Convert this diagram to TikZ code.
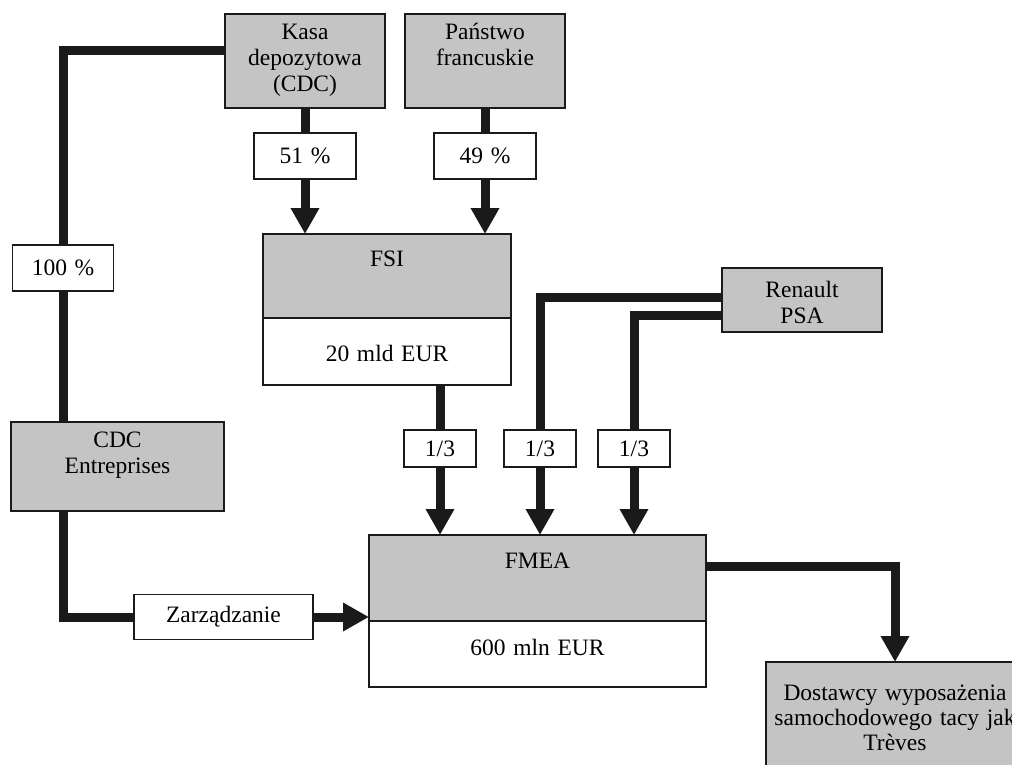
\documentclass[tikz,border=0pt]{standalone}
\usepackage{fontspec}
\setmainfont{Liberation Serif}[WordSpace=1.3]
\usetikzlibrary{arrows.meta,positioning}
\definecolor{boxgrey}{RGB}{196,196,196}
\definecolor{ink}{RGB}{26,26,26}
\tikzset{
 box/.style={draw=ink,line width=1.6pt,outer sep=0pt,inner sep=0pt},
 greybox/.style={box,fill=boxgrey},
 tag/.style={box,fill=white,font=\fontsize{23.5}{26}\selectfont},
 txt/.style={inner sep=0pt,align=center,anchor=base,font=\fontsize{23.5}{26}\selectfont},
 link/.style={draw=ink,line width=9pt},
 flow/.style={link,-{Triangle[width=27pt,length=26pt]}}
}

\begin{document}
\begin{tikzpicture}[x=1pt,y=-1pt]
\clip (0,0) rectangle (1012,765);
\fill[white] (0,0) rectangle (1012,765);
\node[greybox,minimum width=160,minimum height=94] (kasa) at (305,61) {};
\node[greybox,minimum width=160,minimum height=94] (panstwo) at (485,61) {};
\node[tag,minimum width=102,minimum height=46] (p51) at (305,156) {51 \%};
\node[tag,minimum width=102,minimum height=46] (p49) at (485,156) {49 \%};
\node[greybox,minimum width=248,minimum height=84] (fsi) at (387,276) {};
\node[box,fill=white,minimum width=248,minimum height=67,below=0pt of fsi] (fsiamt) {};
\node[greybox,minimum width=160,minimum height=64] (renault) at (802,300) {};
\node[tag,minimum width=72,minimum height=37] (f1) at (440,448.5) {1/3};
\node[tag,minimum width=72,minimum height=37] (f2) at (540,448.5) {1/3};
\node[tag,minimum width=72,minimum height=37] (f3) at (634,448.5) {1/3};
\node[tag,minimum width=101,minimum height=46] (p100) at (63,268) {100 \%};
\node[greybox,minimum width=213,minimum height=89] (cdc) at (117.5,466.5) {};
\node[tag,minimum width=179,minimum height=45] (zarz) at (223.5,617) {Zarządzanie};
\node[greybox,minimum width=337,minimum height=86] (fmea) at (537.5,578) {};
\node[box,fill=white,minimum width=337,minimum height=66,below=0pt of fmea] (fmeaamt) {};
\node[greybox,minimum width=258,minimum height=130,anchor=north west] (dost) at (766,662) {};

\node[txt] at ([yshift=-78pt]kasa.north) {Kasa\\depozytowa\\(CDC)};
\node[txt] at ([yshift=-52pt]panstwo.north) {Państwo\\francuskie};
\node[txt] at ([yshift=-32pt]fsi.north) {FSI};
\node[txt] at ([yshift=-43pt]fsiamt.north) {20 mld EUR};
\node[txt] at ([yshift=-55pt]renault.north) {Renault\\PSA};
\node[txt] at ([yshift=-51pt]cdc.north) {CDC\\Entreprises};
\node[txt] at ([yshift=-33pt]fmea.north) {FMEA};
\node[txt] at ([yshift=-34pt]fmeaamt.north) {600 mln EUR};
\node[txt,font=\fontsize{23.5}{25}\selectfont] at ([yshift=-88pt]dost.north) {Dostawcy wyposażenia\\samochodowego tacy jak\\Trèves};

\draw[link] (kasa.west |- 0,51) -| (p100);
\draw[link] (p100) -- (p100 |- cdc.north);
\draw[link] (cdc.south -| p100) |- (zarz);
\draw[flow] (zarz) -- (zarz -| fmea.west);
\draw[link] (kasa) -- (p51);
\draw[flow] (p51) -- (p51 |- fsi.north);
\draw[link] (panstwo) -- (p49);
\draw[flow] (p49) -- (p49 |- fsi.north);
\draw[link] (fsiamt.south -| f1) -- (f1);
\draw[flow] (f1) -- (f1 |- fmea.north);
\draw[link] (renault.west |- 0,297) -| (f2);
\draw[link] (renault.west |- 0,315) -| (f3);
\draw[flow] (f2) -- (f2 |- fmea.north);
\draw[flow] (f3) -- (f3 |- fmea.north);
\draw[flow] (fmea.east |- 0,566) -| (dost);
\end{tikzpicture}
\end{document}
